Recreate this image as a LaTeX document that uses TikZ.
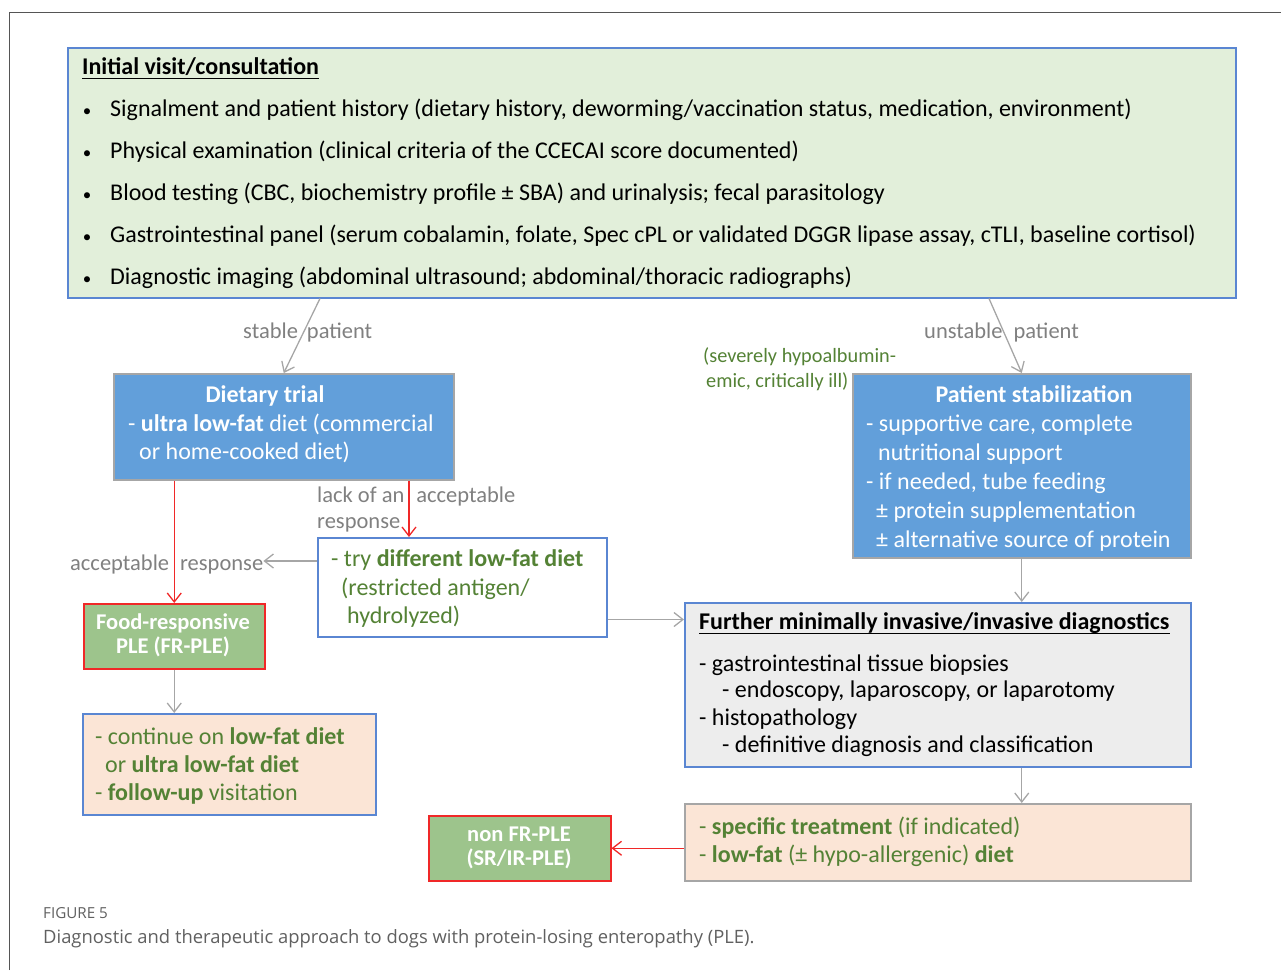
\documentclass[tikz,border=0pt]{standalone}
\usepackage{fontspec}
\setmainfont{Carlito}
\newfontfamily\capfont{Open Sans}
\usetikzlibrary{arrows.meta,calc}
\definecolor{boxblue}{HTML}{5A86D2}
\definecolor{topgreen}{HTML}{E2EFDA}
\definecolor{stepblue}{HTML}{629FDA}
\definecolor{okgreen}{HTML}{9DC48C}
\definecolor{peach}{HTML}{FBE5D6}
\definecolor{lightgray}{HTML}{EDEDED}
\definecolor{txtgreen}{HTML}{548235}
\definecolor{lblgray}{HTML}{808080}
\definecolor{arrgray}{HTML}{A6A6A6}
\definecolor{edgegray}{HTML}{A6A6A6}
\definecolor{redline}{HTML}{F02828}
\definecolor{capgray}{HTML}{606060}
\definecolor{framegray}{HTML}{555555}
\tikzset{
  panel/.style={draw, line width=1.5pt, anchor=north west, inner sep=0pt},
  t/.style={anchor=base west, inner sep=0pt, font=\fontsize{24}{28}\selectfont},
  tc/.style={anchor=base, inner sep=0pt, font=\fontsize{24}{28}\selectfont},
  lbl/.style={anchor=base west, inner sep=0pt, text=lblgray, font=\fontsize{22.5}{26}\selectfont},
  ts/.style={anchor=base west, inner sep=0pt, font=\fontsize{20.3}{24}\selectfont, text=txtgreen},
  wt/.style={anchor=base, inner sep=0pt, text=white, font=\fontsize{22.5}{26}\selectfont\bfseries},
  garr/.style={draw=arrgray, line width=1.3pt, -{Straight Barb[length=9pt,width=14pt]}},
  rarr/.style={draw=redline, line width=1.3pt, -{Straight Barb[length=9pt,width=14pt]}},
}
\begin{document}
\begin{tikzpicture}[x=1pt,y=-1pt]
\useasboundingbox (0,0) rectangle (1281,970);
% frame
\draw[framegray, line width=1pt] (9,970) -- (9,12) -- (1281,12);

% ---------- top box ----------
\node[panel, draw=boxblue, fill=topgreen, minimum width=1168pt, minimum height=250pt] (top) at (67,47) {};
\node[t, font=\fontsize{24}{28}\selectfont\bfseries] (title) at (82,74) {Initial visit/consultation};
\draw[line width=1.3pt] ([yshift=-4.5pt]title.base west) -- ([yshift=-4.5pt]title.base east);
\foreach \yy/\tx [count=\i] in {
 116/{Signalment and patient history (dietary history,\ deworming/vaccination\ status, medication,\ environment)},
 158/{Physical examination (clinical criteria of the\ CCECAI score documented)},
 200/{Blood testing (CBC, biochemistry profile ± SBA) and urinalysis; fecal parasitology},
 242/{Gastrointestinal panel (serum\ cobalamin, folate, Spec cPL or validated DGGR lipase assay, cTLI, baseline cortisol)},
 284/{Diagnostic imaging (abdominal ultrasound;\ abdominal/thoracic\ radiographs)}} {
  \node[anchor=base, inner sep=0pt, font=\fontsize{17}{20}\selectfont] (bul\i) at (87,\yy) {•};
  \node[t] (line\i) at (110,\yy) {\tx};
}

% ---------- labels stable/unstable ----------
\node[lbl] (stable) at (243,338) {stable\hspace{9pt}patient};
\node[lbl] (unstable) at (924,338) {unstable\hspace{11pt}patient};
\node[ts] (sev1) at (703,362) {(severely hypoalbumin-};
\node[ts] (sev2) at (706,387) {emic, critically ill)};

% ---------- dietary trial ----------
\node[panel, draw=edgegray, fill=stepblue, minimum width=340pt, minimum height=106pt] (dt) at (113,373) {};
\node[tc, text=white, font=\fontsize{24}{28}\selectfont\bfseries] (dt1) at (265,402) {Dietary trial};
\node[t, text=white] (dt2) at (128,431) {- \textbf{ultra low-fat} diet (commercial};
\node[t, text=white] (dt3) at (139,459) {or home-cooked\ diet)};

% ---------- patient stabilization ----------
\node[panel, draw=edgegray, fill=stepblue, minimum width=338pt, minimum height=184pt] (ps) at (852,373) {};
\node[tc, text=white, font=\fontsize{24}{28}\selectfont\bfseries] (ps1) at (1034,402) {Patient stabilization};
\node[t, text=white] (ps2) at (866,431) {- supportive\ care, complete};
\node[t, text=white] (ps3) at (878,460) {nutritional\ support};
\node[t, text=white] (ps4) at (866,489) {- if needed, tube\ feeding};
\node[t, text=white] (ps5) at (876,518) {± protein\ supplementation};
\node[t, text=white] (ps6) at (876,547) {± alternative source of protein};

% ---------- try different ----------
\node[panel, draw=boxblue, fill=white, minimum width=289pt, minimum height=99pt] (try) at (317,537) {};
\node[t, text=txtgreen] (try1) at (331,566) {- try\ \textbf{different low-fat diet}};
\node[t, text=txtgreen] (try2) at (341,595) {(restricted antigen/};
\node[t, text=txtgreen] (try3) at (347,623) {hydrolyzed)};

\node[lbl] (lack1) at (317,502) {lack of an\hspace{12pt}acceptable};
\node[lbl] (lack2) at (317,528) {response};
\node[lbl] (accresp) at (70,570) {acceptable\hspace{11pt}response};

% ---------- FR-PLE ----------
\node[panel, draw=redline, fill=okgreen, minimum width=181pt, minimum height=65pt] (fr) at (83,603) {};
\node[wt] (fr1) at (173,629) {Food-responsive};
\node[wt] (fr2) at (173,653) {PLE (FR-PLE)};

% ---------- continue ----------
\node[panel, draw=boxblue, fill=peach, minimum width=293pt, minimum height=101pt] (cont) at (82,713) {};
\node[t, text=txtgreen] (c1) at (95,744) {- continue\ on\ \textbf{low-fat diet}};
\node[t, text=txtgreen] (c2) at (105,772) {or \textbf{ultra low-fat diet}};
\node[t, text=txtgreen] (c3) at (95,800) {- \textbf{follow-up} visitation};

% ---------- further diagnostics ----------
\node[panel, draw=boxblue, fill=lightgray, minimum width=506pt, minimum height=164pt] (further) at (684,602) {};
\node[t, font=\fontsize{24}{28}\selectfont\bfseries] (ft) at (699,629) {Further minimally invasive/invasive diagnostics};
\draw[line width=1.3pt] ([yshift=-4.5pt]ft.base west) -- ([yshift=-4.5pt]ft.base east);
\node[t] (f1) at (699,671) {- gastrointestinal tissue biopsies};
\node[t] (f2) at (722,697) {- endoscopy,\ laparoscopy, or\ laparotomy};
\node[t] (f3) at (699,725) {- histopathology};
\node[t] (f4) at (722,752) {- definitive diagnosis and classification};

% ---------- treatment ----------
\node[panel, draw=edgegray, fill=peach, minimum width=506pt, minimum height=77pt] (treat) at (684,803) {};
\node[t, text=txtgreen] (tr1) at (699,834) {- \textbf{specific treatment} (if indicated)};
\node[t, text=txtgreen] (tr2) at (699,862) {- \textbf{low-fat} (± hypo-allergenic) \textbf{diet}};

% ---------- non FR-PLE ----------
\node[panel, draw=redline, fill=okgreen, minimum width=182pt, minimum height=65pt] (nonfr) at (428,815) {};
\node[wt] (n1) at (519,841) {non FR-PLE};
\node[wt] (n2) at (519,865) {(SR/IR-PLE)};

% ---------- connectors ----------
\draw[garr] ($(top.south west)+(253,0)$) -- (dt.north);
\draw[garr] ($(top.south west)+(922,0)$) -- (ps.north);
\draw[rarr] (fr.north |- dt.south) -- (fr.north);
\coordinate (lk) at ($(dt.south west)+(296,0)$);
\draw[rarr] (lk) -- (lk |- try.north);
\draw[garr] ($(try.north west)+(0,24)$) -- (accresp.east |- {$(try.north west)+(0,24)$});
\coordinate (tf) at ($(try.south east)+(0,-18)$);
\draw[garr] (tf) -- (further.west |- tf);
\draw[garr] (fr.south) -- (fr.south |- cont.north);
\draw[garr] (ps.south) -- (ps.south |- further.north);
\draw[garr] (ps.south |- further.south) -- (ps.south |- treat.north);
\draw[rarr] (treat.west |- nonfr.east) -- (nonfr.east);

% ---------- caption ----------
\node[anchor=base west, inner sep=0pt, text=capgray, font=\capfont\fontsize{15.2}{18}\selectfont] (fig) at (43,918) {FIGURE 5};
\node[anchor=base west, inner sep=0pt, text=capgray, font=\capfont\fontsize{18.4}{22}\selectfont] (cap) at (43,943) {Diagnostic and therapeutic approach to dogs with protein-losing enteropathy (PLE).};
\end{tikzpicture}
\end{document}
